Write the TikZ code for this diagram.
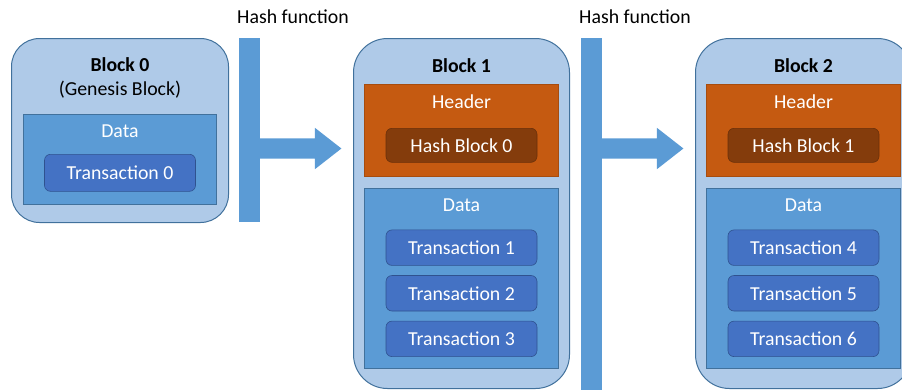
\documentclass[tikz,border=0pt]{standalone}
\usepackage{fontspec}
\setmainfont{Carlito}
\usepackage{tikz}
\usetikzlibrary{positioning,shapes.arrows}
\definecolor{blockfill}{HTML}{AFCAE8}
\definecolor{blockline}{HTML}{41719C}
\definecolor{datafill}{HTML}{5B9BD5}
\definecolor{txfill}{HTML}{4472C4}
\definecolor{txline}{HTML}{2F528F}
\definecolor{headfill}{HTML}{C55A11}
\definecolor{hashfill}{HTML}{843C0C}

\begin{document}
\begin{tikzpicture}[x=1pt, y=-1pt, node distance=9.5pt,
    font=\fontsize{19.8}{23}\selectfont,
    block/.style={draw=blockline, line width=1pt, fill=blockfill, rounded corners=34pt,
        anchor=north west, minimum width=216pt, minimum height=350pt, inner sep=0pt},
    databox/.style={draw=blockline, line width=0.6pt, fill=datafill, anchor=north,
        minimum width=194pt, minimum height=180pt, inner sep=0pt},
    headbox/.style={draw=headfill!85!black, line width=0.6pt, fill=headfill, anchor=north,
        minimum width=194pt, minimum height=92pt, inner sep=0pt},
    txbox/.style={draw=txline, line width=0.6pt, fill=txfill, rounded corners=6pt, text=white,
        minimum width=151pt, minimum height=35.5pt, inner sep=0pt},
    hashbox/.style={draw=hashfill!80!black, line width=0.6pt, fill=hashfill, rounded corners=6pt,
        text=white, anchor=north, minimum width=151pt, minimum height=34pt, inner sep=0pt},
    boxtext/.style={text=white, anchor=base, inner sep=0pt},
    blocktitle/.style={font=\fontsize{19.8}{23}\selectfont\bfseries, anchor=base, inner sep=0pt},
    hashbar/.style={fill=datafill, anchor=north west, minimum width=21pt, inner sep=0pt},
    hasharrow/.style={single arrow, fill=datafill, anchor=tail, minimum height=83pt,
        inner xsep=0pt, inner ysep=10pt, single arrow head extend=10.5pt,
        single arrow tip angle=76, outer sep=0pt}]
    \useasboundingbox (0,0) rectangle (902,389);

    % block 0
    \node[block, rounded corners=28pt, minimum width=217pt, minimum height=184pt] (blk0) at (11,38) {};
    \node[blocktitle] (name0) at ([yshift=-33pt]blk0.north) {Block 0};
    \node[anchor=base, inner sep=0pt] (genesis) at ([yshift=-57pt]blk0.north) {(Genesis Block)};
    \node[databox, minimum width=193pt, minimum height=90pt] (data0) at ([yshift=-76pt]blk0.north) {};
    \node[boxtext] (datatxt0) at ([yshift=-23pt]data0.north) {Data};
    \node[txbox, anchor=north, minimum height=37pt] (t0) at ([yshift=-40pt]data0.north) {Transaction 0};

    % hash function 1
    \node[hashbar, minimum height=184pt] (bar1) at (239,38) {};
    \node[anchor=base west, inner sep=0pt] (hf1) at ([xshift=-2pt, yshift=15pt]bar1.north west) {Hash function};
    \node[hasharrow] (arr1) at ([xshift=-2pt, yshift=-110.5pt]bar1.north east) {};

    % block 1
    \node[block] (blk1) at (353,38) {};
    \node[blocktitle] (name1) at ([yshift=-34pt]blk1.north) {Block 1};
    \node[headbox] (hdr1) at ([yshift=-46pt]blk1.north) {};
    \node[boxtext] (hdrtxt1) at ([yshift=-24pt]hdr1.north) {Header};
    \node[hashbox] (hash0) at ([yshift=-44pt]hdr1.north) {Hash Block 0};
    \node[databox, below=11pt of hdr1] (data1) {};
    \node[boxtext] (datatxt1) at ([yshift=-24pt]data1.north) {Data};
    \node[txbox, anchor=north] (t1) at ([yshift=-42pt]data1.north) {Transaction 1};
    \node[txbox, below=of t1] (t2) {Transaction 2};
    \node[txbox, below=of t2] (t3) {Transaction 3};

    % hash function 2
    \node[hashbar, minimum height=352pt] (bar2) at (581,38) {};
    \node[anchor=base west, inner sep=0pt] (hf2) at ([xshift=-2pt, yshift=15pt]bar2.north west) {Hash function};
    \node[hasharrow] (arr2) at ([xshift=-2pt, yshift=-110.5pt]bar2.north east) {};

    % block 2
    \node[block] (blk2) at (695,38) {};
    \node[blocktitle] (name2) at ([yshift=-34pt]blk2.north) {Block 2};
    \node[headbox] (hdr2) at ([yshift=-46pt]blk2.north) {};
    \node[boxtext] (hdrtxt2) at ([yshift=-24pt]hdr2.north) {Header};
    \node[hashbox] (hash1) at ([yshift=-44pt]hdr2.north) {Hash Block 1};
    \node[databox, below=11pt of hdr2] (data2) {};
    \node[boxtext] (datatxt2) at ([yshift=-24pt]data2.north) {Data};
    \node[txbox, anchor=north] (t4) at ([yshift=-42pt]data2.north) {Transaction 4};
    \node[txbox, below=of t4] (t5) {Transaction 5};
    \node[txbox, below=of t5] (t6) {Transaction 6};
\end{tikzpicture}
\end{document}
